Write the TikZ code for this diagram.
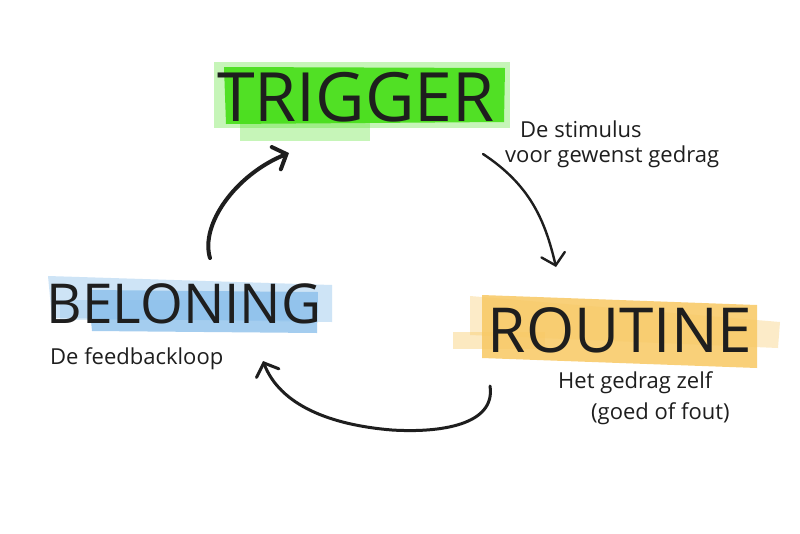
\documentclass[tikz,border=0pt]{standalone}
\usepackage{fontspec}
\setmainfont{Open Sans}
\usetikzlibrary{arrows.meta}
\definecolor{ink}{HTML}{1E1E1E}
\definecolor{mgreen}{HTML}{45DE16}
\definecolor{mblue}{HTML}{86BDEA}
\definecolor{morange}{HTML}{F8C862}
\tikzset{
  title/.style={text=ink, inner sep=0pt, anchor=center},
  note/.style={text=ink, inner sep=0pt, font=\fontsize{22}{26}\selectfont, anchor=west},
  flow/.style={draw=ink, line width=3pt, line cap=round, line join=round,
    -{Straight Barb[length=11pt,width=24pt,line cap=round]}},
}
\begin{document}
\begin{tikzpicture}[x=1pt,y=-1pt]
\useasboundingbox[fill=white] (0,0) rectangle (800,533);
% highlights
\fill[mgreen, opacity=0.3] (214,62) rectangle (510,128);
\fill[mgreen, opacity=0.3] (240,110) rectangle (370,141);
\fill[mgreen, opacity=0.9] (224,67) -- (505,68) -- (504,122) -- (226,124) -- cycle;
\fill[mblue, opacity=0.4] (48,276) -- (332,285) -- (332,322) -- (52,318) -- cycle;
\fill[mblue, opacity=0.75] (88,290) -- (318,292) -- (317,333) -- (92,331) -- cycle;
\fill[mblue, opacity=0.3] (60,300) rectangle (300,320);
\fill[morange, opacity=0.35] (470,296) -- (780,322) -- (778,348) -- (470,335) -- cycle;
\fill[morange, opacity=0.4] (453,332) rectangle (545,349);
\fill[morange, opacity=0.85] (482,295) -- (757,305) -- (757,368) -- (482,358) -- cycle;
% titles
\node[title, font=\fontsize{68}{70}\selectfont] (trigger) at (356,97) {TRIGGER};
\node[title, font=\fontsize{62}{64}\selectfont] (routine) at (620,330) {ROUTINE};
\node[title, font=\fontsize{55}{57}\selectfont] (beloning) at (184,304) {BELONING};
% notes
\node[note] (stim) at (520,129) {De stimulus};
\node[note] (stim2) at (505,157) {voor gewenst gedrag};
\node[note] (feed) at (50,359) {De feedbackloop};
\node[note] (gedrag) at (558,383) {Het gedrag zelf};
\node[note] (gedrag2) at (591,414) {(goed of fout)};
% connector ends
\coordinate (a1s) at (483,154);
\coordinate (a1e) at (556,267);
\coordinate (a2s) at (490,386);
\coordinate (a2e) at (263,361);
\coordinate (a3s) at (210,258);
\coordinate (a3e) at (289,153);
\draw[flow, line width=2.4pt] (a1s) .. controls (530,185) and (545,220) .. (a1e);
\draw[flow] (a2s) .. controls (496,425) and (440,433) .. (392,430)
  .. controls (330,425) and (280,405) .. (a2e);
\draw[flow, line width=4pt] (a3s) .. controls (200,225) and (235,175) .. (a3e);
\end{tikzpicture}
\end{document}
